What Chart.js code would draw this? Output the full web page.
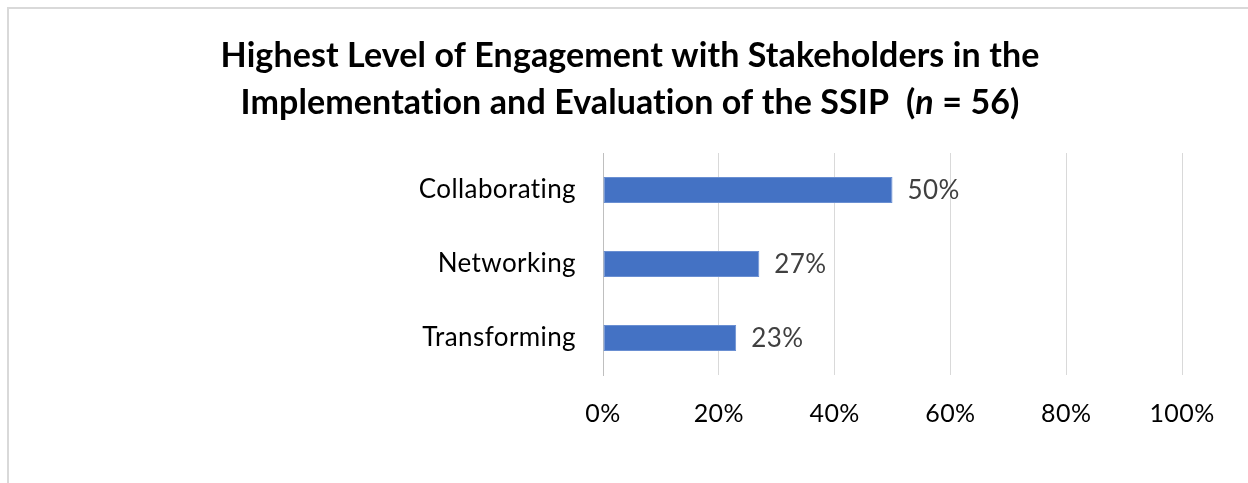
<!DOCTYPE html>
<html>
<head>
<meta charset="utf-8">
<script src="https://cdn.jsdelivr.net/npm/chart.js@4"></script>
<style>
  html, body { margin: 0; padding: 0; background: #fff; overflow: hidden; }
  #frame { position: absolute; left: 7px; top: 7px; width: 1300px; height: 540px; border: 2px solid #d9d9d9; }
  #wrap { position: absolute; left: 0; top: 0; width: 1248px; height: 483px; }
</style>
</head>
<body>
<div id="frame"></div>
<div id="wrap"><canvas id="engChart" width="1248" height="483"></canvas></div>
<script>
// chart data
var categories = ['Collaborating', 'Networking', 'Transforming'];
var percents = [50, 27, 23];
var tickValues = [0, 20, 40, 60, 80, 100];
var titleLine1 = 'Highest Level of Engagement with Stakeholders in the';
var titleLine2 = ['Implementation and Evaluation of the SSIP  (', 'n', ' = 56)'];

var FONT = 'Lato, "Open Sans", sans-serif';

// small letter spacing: no "ti" ligature, closer to Calibri widths
var spacing = {
    id: 'spacing',
    beforeDraw: function(chart) { chart.ctx.letterSpacing = '0.4px'; }
};

// title with italic n, drawn on the canvas
var titlePlugin = {
    id: 'twoLineTitle',
    afterDraw: function(chart) {
        var ctx = chart.ctx;
        var cx = 630;
        ctx.save();
        ctx.letterSpacing = '0.1px';
        ctx.fillStyle = '#000';
        ctx.textBaseline = 'alphabetic';
        ctx.font = 'bold 34px ' + FONT;
        ctx.textAlign = 'center';
        ctx.fillText(titleLine1, cx, 67);

        var fonts = ['bold 34px ' + FONT, 'italic bold 34px ' + FONT, 'bold 34px ' + FONT];
        var widths = titleLine2.map(function(t, i) { ctx.font = fonts[i]; return ctx.measureText(t).width; });
        var total = widths.reduce(function(a, b) { return a + b; }, 0);
        var x = cx - total / 2;
        ctx.textAlign = 'left';
        titleLine2.forEach(function(t, i) {
            ctx.font = fonts[i];
            ctx.fillText(t, x, 114);
            x += widths[i];
        });
        ctx.restore();
    }
};

// value labels at the end of each bar
var valueLabels = {
    id: 'valueLabels',
    afterDatasetsDraw: function(chart) {
        var ctx = chart.ctx;
        var meta = chart.getDatasetMeta(0);
        ctx.save();
        ctx.fillStyle = '#404040';
        ctx.font = '26px ' + FONT;
        ctx.textAlign = 'left';
        ctx.textBaseline = 'middle';
        meta.data.forEach(function(bar, i) {
            ctx.fillText(percents[i] + '%', bar.x + 15, bar.y + 1);
        });
        ctx.restore();
    }
};

var ctx = document.getElementById('engChart').getContext('2d');
new Chart(ctx, {
    type: 'bar',
    data: {
        labels: categories,
        datasets: [{
            data: percents,
            backgroundColor: '#4472C4',
            borderColor: '#6a8fd2',
            borderWidth: 1,
            borderSkipped: false,
            categoryPercentage: 1,
            barPercentage: 0.35
        }]
    },
    plugins: [spacing, titlePlugin, valueLabels],
    options: {
        indexAxis: 'y',
        responsive: false,
        animation: false,
        layout: { padding: { top: 153, right: 66, bottom: 48, left: 0 } },
        plugins: {
            legend: { display: false },
            tooltip: { enabled: false },
            title: { display: false }
        },
        scales: {
            x: {
                min: 0,
                max: 100,
                afterBuildTicks: function(scale) {
                    scale.ticks = tickValues.map(function(v) { return { value: v }; });
                },
                afterFit: function(scale) { scale.height = 60; },
                grid: { color: '#d9d9d9', lineWidth: 1, drawTicks: false },
                border: { display: false },
                ticks: {
                    padding: 24,
                    color: '#000',
                    font: { family: FONT, size: 25 },
                    callback: function(v) { return v + '%'; }
                }
            },
            y: {
                afterFit: function(scale) { scale.width = 603; },
                grid: { display: false, drawTicks: false },
                border: { display: true, color: '#bfbfbf', width: 1 },
                ticks: {
                    padding: 27,
                    color: '#000',
                    font: { family: FONT, size: 26 }
                }
            }
        }
    }
});
</script>
</body>
</html>
